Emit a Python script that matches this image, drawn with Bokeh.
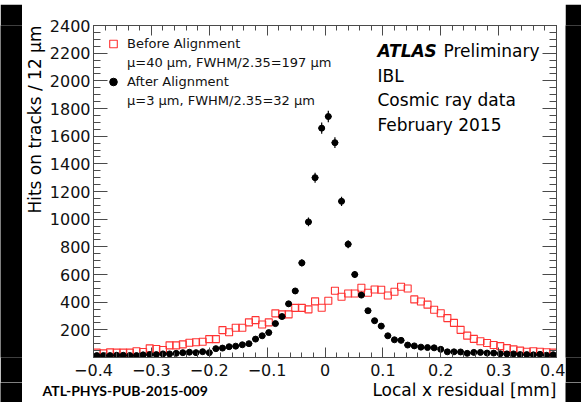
import math
from bokeh.plotting import figure
from bokeh.models import (ColumnDataSource, LinearAxis, FixedTicker, Label, Legend,
                          LegendItem, Range1d, CustomJSTickFormatter)
from bokeh.layouts import column, row
from bokeh.embed import file_html
from bokeh.resources import INLINE

# ---------------- data ----------------
n_bins = 70
x_lo, x_hi = -0.4, 0.4
bin_width = (x_hi - x_lo) / n_bins
bin_centers = [x_lo + (i + 0.5) * bin_width for i in range(n_bins)]

before_counts = [35, 30, 37, 35, 35, 35, 45, 40, 66, 61,
                 54, 88, 88, 95, 107, 110, 114, 133, 133, 198,
                 182, 215, 215, 254, 270, 239, 254, 319, 312, 312,
                 359, 359, 348, 406, 360, 410, 482, 439, 463, 463,
                 504, 468, 492, 490, 448, 475, 511, 499, 420, 405,
                 382, 345, 320, 285, 250, 200, 158, 135, 117, 105,
                 90, 82, 68, 59, 50, 42, 45, 42, 38, 35]

after_counts = [14, 14, 14, 16, 16, 14, 14, 19, 21, 21,
                26, 26, 30, 35, 38, 35, 42, 35, 64, 68,
                78, 82, 92, 100, 133, 157, 180, 245, 296, 388,
                481, 684, 980, 1300, 1658, 1742, 1553, 1129, 819, 600,
                451, 338, 266, 227, 157, 128, 124, 90, 84, 75,
                72, 70, 59, 41, 41, 40, 30, 37, 37, 32,
                32, 27, 26, 26, 21, 21, 19, 23, 16, 20]

x_major_ticks = [-0.4, -0.3, -0.2, -0.1, 0.0, 0.1, 0.2, 0.3, 0.4]
x_tick_labels = ["\u22120.4", "\u22120.3", "\u22120.2", "\u22120.1", "0", "0.1", "0.2", "0.3", "0.4"]
y_major_ticks = [200, 400, 600, 800, 1000, 1200, 1400, 1600, 1800, 2000, 2200, 2400]
y_tick_labels = ["200", "400", "600", "800", "1000", "1200", "1400", "1600", "1800", "2000", "2200", "2400"]

legend_labels = ["Before Alignment", "\u03bc=40 \u03bcm, FWHM/2.35=197 \u03bcm",
                 "After Alignment", "\u03bc=3 \u03bcm, FWHM/2.35=32 \u03bcm"]
x_title = "Local x residual [mm]"
y_title = "Hits on tracks / 12 \u00b5m"
ref_text = "ATL-PHYS-PUB-2015-009"

# ---------------- page geometry (pixels) ----------------
FONT = "DejaVu Sans"
AX_COL = "#4a4a4a"
W, H = 581, 402
PAGE_L, PAGE_T, PAGE_R = 22, 4, 565          # white panel edges
YT_W = 24                                     # strip holding the y title
MAIN_L, MAIN_B = PAGE_L + YT_W, 382           # main figure left / bottom
FR_L, FR_R, FR_T, FR_B = 91, 556, 25, 357     # frame edges


def strip(w, h, color):
    f = figure(width=w, height=h, x_range=Range1d(0, 1), y_range=Range1d(0, 1),
               x_axis_type=None, y_axis_type=None, output_backend="svg",
               toolbar_location=None, min_border=0, title=None)
    f.outline_line_color = None
    f.xgrid.visible = False
    f.ygrid.visible = False
    f.background_fill_color = color
    f.border_fill_color = color
    return f


def text_label(fig, txt, x, y, size="17px", font=FONT, style="normal", align="left",
               baseline="alphabetic", angle=0.0):
    fig.add_layout(Label(x=x, y=y, x_units="screen", y_units="screen",
                         text=txt, text_font=font, text_font_size=size,
                         text_font_style=style, text_align=align, text_baseline=baseline,
                         angle=angle, text_color="black"))


# ---------------- main figure ----------------
p = figure(width=PAGE_R - MAIN_L, height=MAIN_B - PAGE_T,
           x_range=Range1d(x_lo, x_hi), y_range=Range1d(0, 2400),
           output_backend="svg", toolbar_location=None, title=None,
           min_border_left=FR_L - MAIN_L, min_border_right=PAGE_R - FR_R,
           min_border_top=FR_T - PAGE_T, min_border_bottom=MAIN_B - FR_B)
p.outline_line_color = None
p.xgrid.visible = False
p.ygrid.visible = False
p.background_fill_color = "white"
p.border_fill_color = "white"

x_minor = [round(-0.4 + 0.02 * k, 4) for k in range(41)]
y_minor = [50 * k for k in range(49)]
xticker = FixedTicker(ticks=x_major_ticks, minor_ticks=x_minor)
yticker = FixedTicker(ticks=y_major_ticks, minor_ticks=y_minor)

fmt_code = """
for (let i = 0; i < tvals.length; i++) {
  if (Math.abs(tvals[i] - tick) < 1e-6) { return tlabels[i]; }
}
return "";
"""
xfmt = CustomJSTickFormatter(args=dict(tvals=x_major_ticks, tlabels=x_tick_labels), code=fmt_code)
yfmt = CustomJSTickFormatter(args=dict(tvals=y_major_ticks, tlabels=y_tick_labels), code=fmt_code)
blank_fmt = CustomJSTickFormatter(code='return "";')


def style_axis(ax, tin, minin, labels=True):
    ax.axis_line_color = AX_COL
    ax.axis_line_width = 1
    ax.major_tick_line_color = AX_COL
    ax.minor_tick_line_color = AX_COL
    ax.major_tick_in = tin
    ax.major_tick_out = 0
    ax.minor_tick_in = minin
    ax.minor_tick_out = 0
    if labels:
        ax.major_label_text_font = FONT
        ax.major_label_text_font_size = "16px"
        ax.major_label_text_color = "#111111"
    else:
        ax.major_label_text_font_size = "1px"
        ax.major_label_standoff = 0


bx = p.below[0]
bx.ticker = xticker
bx.formatter = xfmt
style_axis(bx, 10, 5)
bx.major_label_standoff = 6

ly = p.left[0]
ly.ticker = yticker
ly.formatter = yfmt
style_axis(ly, 14, 7)
ly.major_label_standoff = 3

top_ax = LinearAxis(ticker=xticker, formatter=blank_fmt)
style_axis(top_ax, 10, 5, labels=False)
p.add_layout(top_ax, "above")

right_ax = LinearAxis(ticker=yticker, formatter=blank_fmt)
style_axis(right_ax, 14, 7, labels=False)
p.add_layout(right_ax, "right")

# ---------------- data glyphs ----------------
src_before = ColumnDataSource(dict(x=bin_centers, y=before_counts))
err = [math.sqrt(v) for v in after_counts]
src_after = ColumnDataSource(dict(
    x=bin_centers, y=after_counts,
    ylo=[v - e for v, e in zip(after_counts, err)],
    yhi=[v + e for v, e in zip(after_counts, err)],
    xlo=[c - bin_width / 2 for c in bin_centers],
    xhi=[c + bin_width / 2 for c in bin_centers]))

r_before = p.scatter("x", "y", source=src_before, marker="square", size=7,
                     fill_color=None, line_color="#ff3333", line_width=1.1)
p.segment(x0="x", x1="x", y0="ylo", y1="yhi", source=src_after, line_color="black", line_width=1.2)
p.segment(x0="xlo", x1="xhi", y0="y", y1="y", source=src_after, line_color="black", line_width=1.2)
r_after = p.scatter("x", "y", source=src_after, marker="circle", size=6,
                    fill_color="black", line_color="black")

dummy = p.scatter(x=[], y=[], marker="circle", size=1, fill_alpha=0, line_alpha=0)

legend = Legend(items=[
    LegendItem(label=legend_labels[0], renderers=[r_before]),
    LegendItem(label=legend_labels[1], renderers=[dummy]),
    LegendItem(label=legend_labels[2], renderers=[r_after]),
    LegendItem(label=legend_labels[3], renderers=[dummy]),
], location="top_left", margin=9, padding=0, spacing=0,
    glyph_width=22, glyph_height=19, label_height=19, label_standoff=3,
    label_text_font=FONT, label_text_font_size="13px", label_text_color="#111111",
    border_line_alpha=0, background_fill_alpha=0)
p.add_layout(legend)

# texts inside the frame (screen units measured from frame bottom-left)
text_label(p, "ATLAS", 375 - FR_L, FR_B - 50.5, style="bold italic")
text_label(p, "Preliminary", 441 - FR_L, FR_B - 50.5)
text_label(p, "IBL", 375 - FR_L, FR_B - 75)
text_label(p, "Cosmic ray data", 375 - FR_L, FR_B - 99.5)
text_label(p, "February 2015", 375 - FR_L, FR_B - 124)

# ---------------- y title strip ----------------
# (its frame is aligned with the main frame inside the row: 25 .. 357)
ystrip = strip(YT_W, MAIN_B - PAGE_T, "white")
text_label(ystrip, y_title, 34 - PAGE_L, FR_B - FR_T,
           align="right", baseline="middle", angle=math.pi / 2)

# ---------------- bottom strip (x title + reference) ----------------
bstrip = strip(PAGE_R - PAGE_L, H - MAIN_B, "white")
text_label(bstrip, x_title, FR_R - PAGE_L, 13, align="right")
text_label(bstrip, ref_text, 42 - PAGE_L, 12, size="14px", font="Lato", style="bold")

# ---------------- black page border ----------------
top_bar = strip(W, PAGE_T, "black")
left_bar1 = strip(PAGE_L, MAIN_B - PAGE_T, "black")
right_bar1 = strip(W - PAGE_R, MAIN_B - PAGE_T, "black")
left_bar2 = strip(PAGE_L, H - MAIN_B, "black")
right_bar2 = strip(W - PAGE_R, H - MAIN_B, "black")

layout = column(top_bar,
                row(left_bar1, ystrip, p, right_bar1, spacing=0),
                row(left_bar2, bstrip, right_bar2, spacing=0),
                spacing=0)

open("out.html", "w").write(file_html(layout, INLINE))
